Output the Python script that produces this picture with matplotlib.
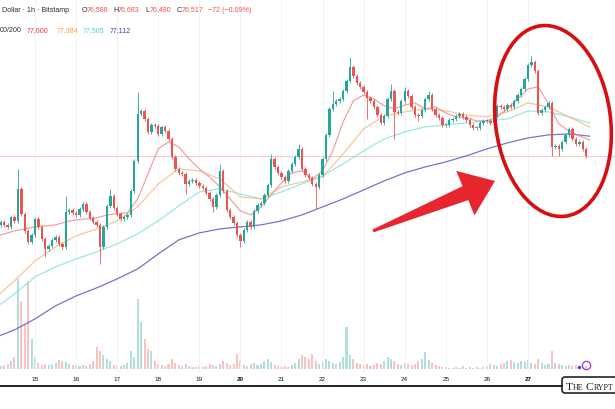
import numpy as np
import matplotlib.pyplot as plt
from matplotlib.patches import Ellipse, Polygon, FancyBboxPatch
from matplotlib.transforms import Affine2D
from matplotlib.lines import Line2D

plt.rcParams['font.family'] = ['Liberation Sans', 'DejaVu Sans']

W, H = 615, 410

# BTC/USD Bitstamp, 2-hour candles starting 14th 04:00
start_day = 14 + 4 / 24
step = 2 / 24
first_open = 74450
closes = [
    74540, 74450, 74390, 74690, 74570, 75530, 74780, 74270, 73940, 74150,
    74630, 74390, 74030, 73730, 73820, 74000, 74090, 73880, 73790, 74840,
    74900, 74810, 74750, 74930, 75080, 74840, 74660, 74540, 74450, 73790,
    74390, 75020, 75320, 74960, 74780, 74630, 74690, 74750, 75470, 76370,
    77780, 77870, 77630, 77240, 77450, 77420, 77180, 77390, 77270, 77030,
    76490, 76130, 76010, 75980, 75680, 75770, 75800, 75710, 75620, 75560,
    75410, 75230, 74990, 75350, 76070, 75470, 74900, 74690, 74510, 74150,
    73970, 74300, 74540, 74390, 74870, 75050, 75110, 75350, 75650, 76430,
    76190, 76010, 75890, 75770, 76070, 76280, 76490, 76730, 76130, 75950,
    75860, 75680, 75590, 75950, 76430, 77150, 77930, 78080, 78170, 78230,
    78470, 78770, 79190, 78920, 78710, 78590, 78440, 78260, 78170, 77990,
    77750, 77510, 77720, 78230, 78470, 77840, 77810, 78170, 78470, 78320,
    77990, 77750, 77720, 77900, 78230, 78350, 77930, 77750, 77660, 77450,
    77450, 77600, 77630, 77720, 77780, 77690, 77600, 77450, 77360, 77360,
    77510, 77570, 77570, 77510, 77720, 78020, 77990, 77930, 78050, 77990,
    78170, 78350, 78530, 78830, 79250, 79340, 79070, 77810, 77900, 77990,
    78110, 76790, 76820, 76730, 76940, 77150, 77330, 77030, 76880, 76940,
    76730, 76517,
]
long_highs = {5: 76130, 19: 75320, 32: 75530, 40: 78440, 64: 76280, 79: 76580,
              87: 76880, 97: 78470, 102: 79490, 114: 78680, 118: 78590,
              125: 78470, 155: 79520}
long_lows = {13: 73490, 29: 73280, 54: 75380, 62: 74840, 70: 73790, 92: 74930,
             107: 77630, 115: 77030, 122: 77570, 161: 76520, 163: 76520}
wick = 70

volumes = [
    30, 40, 50, 80, 120, 900, 680, 450, 880, 300,
    120, 60, 40, 50, 40, 50, 60, 90, 80, 70,
    50, 40, 40, 30, 40, 30, 50, 80, 220, 180,
    140, 100, 80, 40, 30, 30, 40, 60, 180, 120,
    700, 470, 300, 200, 180, 80, 50, 40, 30, 50,
    100, 60, 40, 30, 50, 30, 20, 20, 30, 20,
    30, 50, 40, 30, 50, 80, 60, 40, 50, 150,
    80, 40, 30, 50, 60, 40, 50, 80, 100, 70,
    40, 30, 20, 30, 20, 40, 60, 100, 140, 120,
    100, 150, 80, 50, 70, 100, 80, 60, 50, 70,
    120, 420, 140, 100, 60, 50, 40, 50, 30, 40,
    60, 50, 80, 120, 100, 80, 50, 40, 60, 50,
    40, 50, 80, 100, 170, 90, 60, 40, 30, 20,
    20, 10, 10, 20, 10, 30, 10, 20, 10, 20,
    10, 20, 30, 50, 40, 30, 50, 60, 80, 90,
    70, 60, 80, 70, 90, 60, 50, 100, 60, 40,
    50, 180, 60, 50, 40, 30, 40, 30, 40, 30,
    40, 30,
]

# MA 20 sampled every 6 hours, the slower averages every 12 hours
ma20_days = np.arange(14.0, 28.51, 0.25)
ma20 = [74090, 74180, 74270, 74330, 74390, 74420, 74450, 74540, 74600, 74630,
        74660, 74750, 74780, 74810, 75230, 75980, 76730, 76940, 76790, 76430,
        76130, 75890, 75590, 75230, 74870, 74750, 74990, 75350, 75710, 76010,
        76070, 75830, 76070, 76670, 77540, 78170, 78350, 78230, 78020, 77930,
        78050, 78110, 77930, 77990, 77810, 77690, 77660, 77570, 77570, 77690,
        77930, 78230, 78530, 78590, 78080, 77480, 77270, 77120, 77000]
ma_days = np.arange(14.0, 28.51, 0.5)
ma50 = [72230, 72770, 73370, 73790, 74120, 74330, 74570, 74990, 75680, 76130,
        76070, 75830, 75290, 75230, 75590, 75740, 75890, 76580, 77330, 77720,
        77840, 77930, 77870, 77750, 77690, 77840, 78110, 77990, 77690, 77384]
ma100 = [71930, 72380, 72890, 73190, 73430, 73640, 73880, 74180, 74570, 75020,
         75440, 75530, 75380, 75230, 75440, 75680, 75920, 76280, 76670, 77030,
         77240, 77390, 77450, 77510, 77570, 77630, 77870, 77840, 77690, 77505]
ma200 = [71060, 71300, 71630, 72020, 72320, 72560, 72830, 73130, 73580, 74000,
         74210, 74330, 74390, 74450, 74570, 74750, 74990, 75230, 75500, 75770,
         76010, 76190, 76340, 76520, 76730, 76910, 77060, 77150, 77180, 77112]

day_ticks = list(range(15, 28))
bold_days = [20, 27]
last_price = 76517

GREEN = '#26a69a'
RED = '#ef5350'

fig = plt.figure(figsize=(W / 100, H / 100), dpi=100)
fig.patch.set_facecolor('white')
ax_vol = fig.add_axes([0, 38 / H, 1, 372 / H])
ax = fig.add_axes([0, 38 / H, 1, 372 / H], sharex=ax_vol)
ax.patch.set_visible(False)

t = start_day + step * np.arange(len(closes))
c = np.array(closes, dtype=float)
o = np.r_[first_open, c[:-1]]
highs = np.maximum(o, c) + wick
lows = np.minimum(o, c) - wick
for i, v in long_highs.items():
    highs[i] = v
for i, v in long_lows.items():
    lows[i] = v
up = c >= o
colors = np.where(up, GREEN, RED)

# volume
ax_vol.bar(t, volumes, width=step * 0.6, color=colors, alpha=0.35, lw=0)
ax_vol.set_ylim(-20, 3720)
ax_vol.axis('off')

# grid + last price line
for d in day_ticks:
    ax.axvline(d, color='#f0f1f5', lw=0.6, zorder=0)
ax.axhline(last_price, color='#f3c9c9', lw=0.8, zorder=1)

# moving averages
ax.plot(ma_days, ma200, color='#5b5cc4', lw=0.9, alpha=0.85, zorder=2)
ax.plot(ma_days, ma100, color='#7fe3df', lw=0.9, alpha=0.8, zorder=2)
ax.plot(ma_days, ma50, color='#f5b982', lw=0.9, alpha=0.8, zorder=2)
ax.plot(ma20_days, ma20, color='#ef8a88', lw=0.9, alpha=0.8, zorder=2)

# candles
ax.vlines(t, lows, highs, colors=colors, lw=0.6, zorder=3)
body = np.maximum(np.abs(c - o), 25)
ax.bar(t, body, bottom=np.minimum(o, c), width=step * 0.7, color=colors,
       lw=0, zorder=4)

ax.set_xlim(14.148, 14.148 + W / 41.08)
ax.set_ylim(81227 - 30 * 372, 81227)
ax.set_xticks(day_ticks)
ax.set_xticklabels([str(d) for d in day_ticks], fontsize=4.6, color='#131722')
for lab, d in zip(ax.get_xticklabels(), day_ticks):
    if d in bold_days:
        lab.set_fontweight('bold')
ax.tick_params(axis='x', length=0, pad=3.5)
ax.set_yticks([])
for s in ax.spines.values():
    s.set_visible(False)

# pixel transform (top-down coordinates)
px = Affine2D().scale(1, -1).translate(0, H)


def htxt(x, y, s, color, **kw):
    fig.text(x / W, 1 - y / H, s, color=color, fontsize=5.1, va='center',
             ha='left', **kw)


dark = '#2a2e39'
htxt(2, 10, 'Dollar · 1h · Bitstamp', dark)
for x, lab, val in [(82, 'O', '76,588'), (113, 'H', '76,683'),
                    (145, 'L', '76,480'), (177, 'C', '76,517')]:
    htxt(x, 10, lab, dark)
    htxt(x + 5, 10, val, RED)
htxt(208, 10, '\u221272 (\u22120.09%)', RED)
htxt(0, 31, '00/200', dark)
htxt(27, 31, '77,000', '#f23645')
htxt(57, 31, '77,384', '#f7a04b')
htxt(83, 31, '77,505', '#4dd0e1')
htxt(110, 31, '77,112', '#3d3dbf')

# red ellipse
ell = Ellipse((553, 122), 115, 192, angle=-7.5, fill=False, edgecolor='#d50f12',
              lw=2.6, transform=px)
fig.add_artist(ell)

# red arrow
tail = np.array([373.0, 232.0])
tip = np.array([495.0, 182.0])
u = (tip - tail) / np.linalg.norm(tip - tail)
v = np.array([-u[1], u[0]])
L = np.linalg.norm(tip - tail)
local = [(0, -1.5), (L - 32, -7.5), (L - 32, -24), (L, 0), (L - 32, 24),
         (L - 32, 7.5), (0, 1.5)]
pts = [tail + a * u + b * v for a, b in local]
fig.add_artist(Polygon(pts, closed=True, facecolor='#e8262d', edgecolor='none',
                       transform=px))

# event icon
fig.add_artist(Line2D([586], [366], marker='o', ms=6, mfc='none', mec='#a23ad6',
                      mew=0.9, transform=px))
fig.add_artist(Line2D([579], [368], marker='o', ms=2.5, mfc='#3f51b5',
                      mec='none', transform=px))

# bottom border + logo box
fig.add_artist(Line2D([0, 562], [387, 387], color='#222222', lw=1.4, transform=px))
box = FancyBboxPatch((562, 378), 80, 16, boxstyle='round,pad=0,rounding_size=3',
                     facecolor='white', edgecolor='#222222', lw=1.2, transform=px)
fig.add_artist(box)
for x, s, fs in [(566, 'T', 8.2), (573, 'HE', 5.8), (586, 'C', 8.2),
                 (594, 'RYPT', 5.8)]:
    fig.text(x / W, 1 - 390.5 / H, s, fontsize=fs, family='Liberation Serif',
             color='#1a1a1a', va='baseline', ha='left')

fig.savefig('out.png', dpi=100)
